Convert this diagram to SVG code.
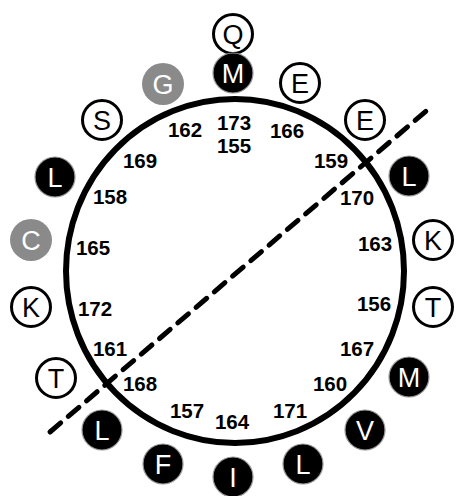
<svg xmlns="http://www.w3.org/2000/svg" width="457" height="496" viewBox="0 0 457 496">
<style>
.w circle{fill:#fff;stroke:#000;stroke-width:3}
.b circle{fill:#000;stroke:#999;stroke-width:1.2}
.g circle{fill:#8a8a8a;stroke:none}
.w text{fill:#000}
.b text,.g text{fill:#fff}
.res text{font-family:"Liberation Sans",Arial,sans-serif;font-size:27px;text-anchor:middle}
.num{font-family:"Liberation Sans",Arial,sans-serif;font-size:20.5px;font-weight:bold;text-anchor:middle;fill:#000}
</style>
<rect width="457" height="496" fill="#fff"/>
<g id="helix">
<ellipse cx="235" cy="271" rx="169" ry="172" fill="none" stroke="#000" stroke-width="6"/>
</g>
<g id="connectors">
<path d="M50,432 L432,106" fill="none" stroke="#000" stroke-width="5" stroke-linecap="round" stroke-dasharray="14 10"/>
</g>
<g id="numbers" class="num">
<text x="185" y="137">162</text>
<text x="234" y="130">173</text>
<text x="234" y="153">155</text>
<text x="287" y="138">166</text>
<text x="140" y="168">169</text>
<text x="331" y="168">159</text>
<text x="110" y="204">158</text>
<text x="357" y="205">170</text>
<text x="93" y="255">165</text>
<text x="375" y="251">163</text>
<text x="95" y="316">172</text>
<text x="374" y="311">156</text>
<text x="110" y="356">161</text>
<text x="357" y="356">167</text>
<text x="140" y="391">168</text>
<text x="330" y="391">160</text>
<text x="187" y="418">157</text>
<text x="290" y="418">171</text>
<text x="232" y="429">164</text>
</g>
<g class="res">
<g id="Q" class="w"><circle cx="233" cy="34" r="19.5"/><text x="233" y="44">Q</text></g>
<g id="M1" class="b"><circle cx="233" cy="73" r="20"/><text x="233" y="83">M</text></g>
<g id="G" class="g"><circle cx="163" cy="84" r="21"/><text x="163" y="94">G</text></g>
<g id="E1" class="w"><circle cx="300" cy="83" r="19.5"/><text x="300" y="93">E</text></g>
<g id="S" class="w"><circle cx="102" cy="120" r="19.5"/><text x="102" y="130">S</text></g>
<g id="E2" class="w"><circle cx="365" cy="120" r="19.5"/><text x="365" y="130">E</text></g>
<g id="L1" class="b"><circle cx="55" cy="177" r="20"/><text x="55" y="187">L</text></g>
<g id="L2" class="b"><circle cx="409" cy="176" r="20"/><text x="409" y="186">L</text></g>
<g id="C" class="g"><circle cx="31" cy="240" r="21"/><text x="31" y="250">C</text></g>
<g id="K1" class="w"><circle cx="433" cy="240" r="19.5"/><text x="433" y="250">K</text></g>
<g id="K2" class="w"><circle cx="31" cy="307" r="19.5"/><text x="31" y="317">K</text></g>
<g id="T1" class="w"><circle cx="433" cy="307" r="19.5"/><text x="433" y="317">T</text></g>
<g id="T2" class="w"><circle cx="56" cy="378" r="19.5"/><text x="56" y="388">T</text></g>
<g id="M2" class="b"><circle cx="409" cy="377" r="20"/><text x="409" y="387">M</text></g>
<g id="L3" class="b"><circle cx="102" cy="430" r="20"/><text x="102" y="440">L</text></g>
<g id="V" class="b"><circle cx="365" cy="430" r="20"/><text x="365" y="440">V</text></g>
<g id="F" class="b"><circle cx="163" cy="464" r="20"/><text x="163" y="474">F</text></g>
<g id="L4" class="b"><circle cx="303" cy="464" r="20"/><text x="303" y="474">L</text></g>
<g id="I" class="b"><circle cx="233" cy="477" r="20"/><text x="233" y="487">I</text></g>
</g>
</svg>
